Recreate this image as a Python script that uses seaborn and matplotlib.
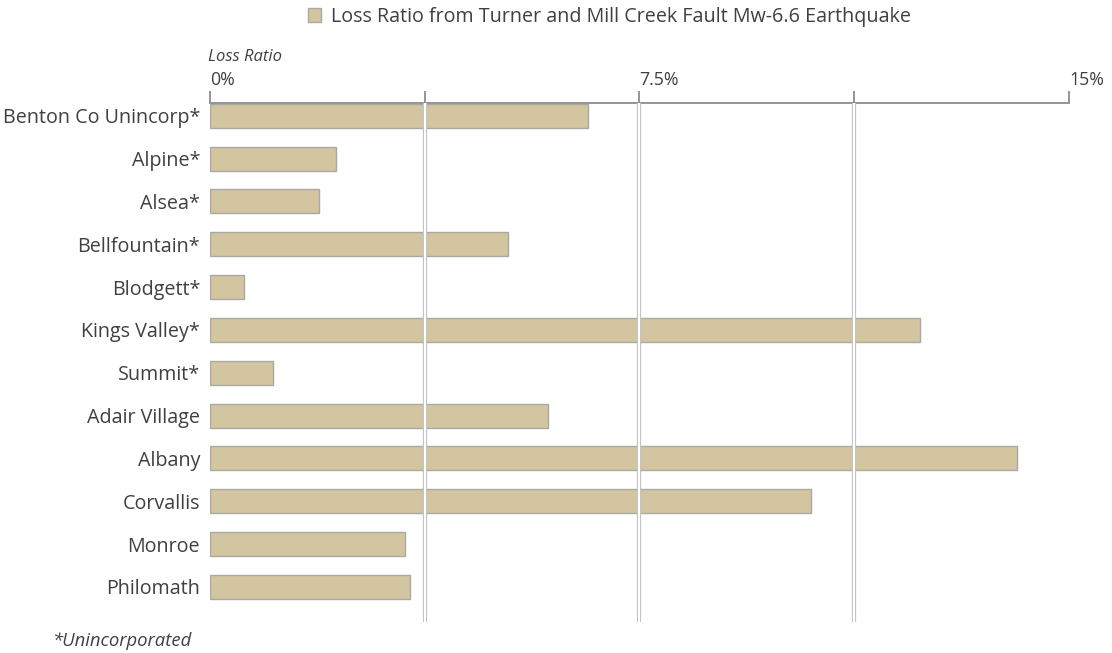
import matplotlib
matplotlib.use("Agg")
import matplotlib.pyplot as plt
import seaborn as sns
import pandas as pd
from matplotlib.patches import Patch

places = ["Benton Co Unincorp*", "Alpine*", "Alsea*", "Bellfountain*", "Blodgett*",
          "Kings Valley*", "Summit*", "Adair Village", "Albany", "Corvallis",
          "Monroe", "Philomath"]
loss_ratio = [6.6, 2.2, 1.9, 5.2, 0.6, 12.4, 1.1, 5.9, 14.1, 10.5, 3.4, 3.5]
major_ticks = [0, 7.5, 15]
minor_ticks = [3.75, 11.25]
tick_labels = ["0%", "7.5%", "15%"]
series_name = "Loss Ratio from Turner and Mill Creek Fault Mw-6.6 Earthquake"

sns.set_theme(style="white")
plt.rcParams["font.family"] = ["Open Sans", "DejaVu Sans"]

df = pd.DataFrame({"place": places, "ratio": loss_ratio})

fig = plt.figure(figsize=(11.12, 6.53), dpi=100)
ax = fig.add_axes([0.1888, 0.0475, 0.9613 - 0.1888, 0.8423 - 0.0475])

bar_color = "#D3C59F"
sns.barplot(data=df, x="ratio", y="place", orient="h", color=bar_color,
            width=0.56, edgecolor="#A9A9A2", linewidth=1.0, saturation=1, ax=ax)

ax.set_xlim(0, 15)
ax.set_ylim(len(places) - 1 + 0.82, -0.3)

# gridlines drawn over the bars: white core with gray outline
for xv in minor_ticks + [7.5]:
    ax.axvline(xv, color="#BDBDBD", lw=3.0, zorder=5)
    ax.axvline(xv, color="white", lw=1.6, zorder=6)

for s in ["left", "right", "bottom"]:
    ax.spines[s].set_visible(False)
ax.spines["top"].set_visible(True)
ax.spines["top"].set_color("#8C8C8C")
ax.spines["top"].set_linewidth(1.3)

ax.xaxis.tick_top()
ax.set_xticks(major_ticks)
ax.set_xticklabels(tick_labels, ha="left")
ax.set_xticks(minor_ticks, minor=True)
ax.tick_params(axis="x", which="both", direction="out", length=9, width=1.3,
               color="#8C8C8C", top=True, bottom=False, labelsize=12.8,
               labelcolor="#404040", pad=1)
ax.tick_params(axis="y", length=0, labelsize=14.2, labelcolor="#404040", pad=7)
ax.set_xlabel("")
ax.set_ylabel("")

fig.text(208 / 1112, 1 - 57 / 653, "Loss Ratio", style="italic", fontsize=12,
         color="#404040", ha="left", va="center")
fig.text(52 / 1112, 1 - 641 / 653, "*Unincorporated", style="italic", fontsize=13.3,
         color="#404040", ha="left", va="center")

handle = Patch(facecolor=bar_color, edgecolor="#A9A9A2", label=series_name)
fig.legend(handles=[handle], loc="center", bbox_to_anchor=(0.548, 1 - 17 / 653),
           frameon=False, fontsize=14.2, handlelength=0.7, handleheight=0.7,
           handletextpad=0.5, labelcolor="#404040")

fig.savefig("out.png", dpi=100)
